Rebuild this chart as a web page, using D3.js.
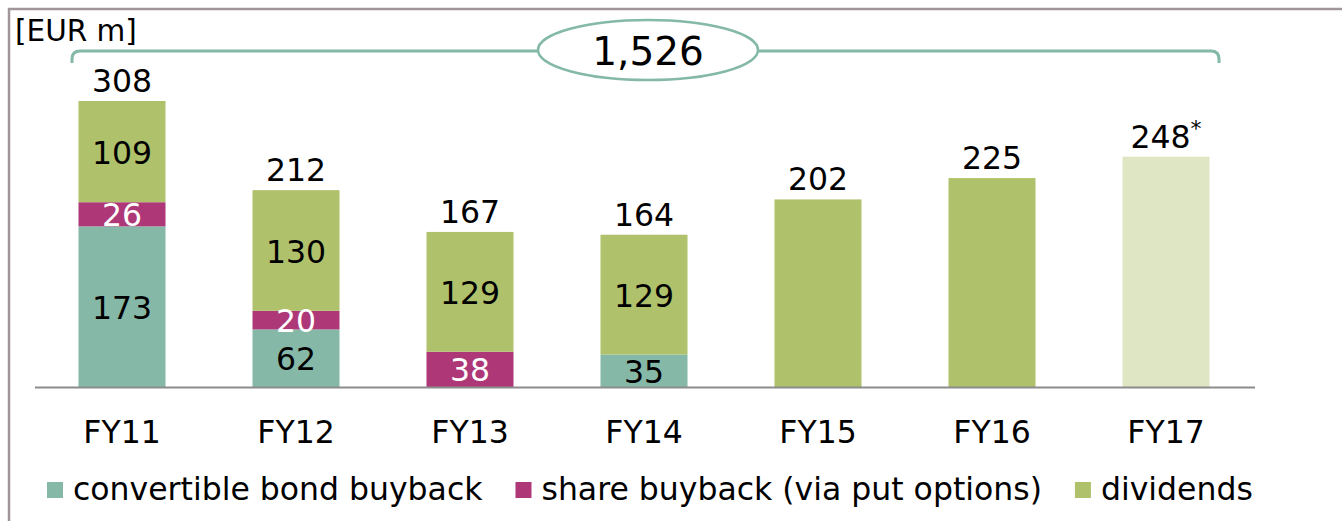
<!DOCTYPE html>
<html><head><meta charset="utf-8">
<script src="https://cdn.jsdelivr.net/npm/d3@7"></script>
<style>
html,body{margin:0;padding:0;background:#fff;}
svg{display:block;font-family:"DejaVu Sans",Verdana,sans-serif;}
</style></head>
<body><svg id="chart" width="1342" height="521"></svg>
<script>
const categories = ["FY11","FY12","FY13","FY14","FY15","FY16","FY17"];
const convertible = [173, 62, 0, 35, 0, 0, 0];
const shareBuyback = [26, 20, 38, 0, 0, 0, 0];
const dividends = [109, 130, 129, 129, 202, 225, 248];
const totals = ["308","212","167","164","202","225","248"];
const seriesNames = ["convertible bond buyback","share buyback (via put options)","dividends"];
const totalSum = "1,526";
const unitLabel = "[EUR m]";

const colors = ["#86b8a8","#ae3778","#afc16b"];
const lightGreen = "#dfe6c4";
const FS = 31.5;
const svg = d3.select("#chart");

// frame
svg.append("rect").attr("x",9).attr("y",9).attr("width",1400).attr("height",600)
  .attr("fill","none").attr("stroke","#a0969a").attr("stroke-width",2.5);

const x = d3.scaleBand().domain(categories).range([35,1253]).paddingInner(0.5).paddingOuter(0.25);
const y = d3.scaleLinear().domain([0,308]).range([387,101]);

const rows = categories.map((c,i)=>({cat:c, conv:convertible[i], share:shareBuyback[i], div:dividends[i]}));
const stack = d3.stack().keys(["conv","share","div"])(rows);

const g = svg.append("g");
stack.forEach((layer,li)=>{
  layer.forEach((d,i)=>{
    if (d[1]-d[0] <= 0) return;
    const cat = categories[i];
    const fill = (li===2 && cat==="FY17") ? lightGreen : colors[li];
    g.append("rect").attr("x",x(cat)).attr("width",x.bandwidth())
      .attr("y",y(d[1])).attr("height",y(d[0])-y(d[1])).attr("fill",fill);
  });
});
// segment labels (only for stacked bars)
stack.forEach((layer,li)=>{
  layer.forEach((d,i)=>{
    const v = d[1]-d[0];
    if (v<=0) return;
    const cat = categories[i];
    const onlyDiv = convertible[i]===0 && shareBuyback[i]===0;
    if (onlyDiv) return;
    g.append("text").attr("x",x(cat)+x.bandwidth()/2)
      .attr("y",(y(d[0])+y(d[1]))/2+12)
      .attr("text-anchor","middle").attr("font-size",FS)
      .attr("fill", li===1 ? "#fff" : "#000").text(v);
  });
});
// totals
categories.forEach((c,i)=>{
  const t = g.append("text").attr("x",x(c)+x.bandwidth()/2).attr("y",y(+totals[i])-9)
    .attr("text-anchor","middle").attr("font-size",FS).attr("fill","#000").text(totals[i]);
  if (c==="FY17") t.append("tspan").attr("font-size",22).attr("dy",-12).text("*");
});

// axis line
svg.append("line").attr("x1",35).attr("x2",1255).attr("y1",387.5).attr("y2",387.5)
  .attr("stroke","#8c8c8c").attr("stroke-width",2);
// category labels
const xAxis = d3.axisBottom(x).tickSize(0).tickPadding(0);
const ax = svg.append("g").attr("transform","translate(0,387)").call(xAxis);
ax.select(".domain").remove();
ax.selectAll("text").attr("font-size",FS).attr("fill","#000")
  .attr("font-family","DejaVu Sans").attr("dy",0).attr("y",55.5);

// unit
svg.append("text").attr("x",15).attr("y",41).attr("font-size",29.5).attr("fill","#000").text(unitLabel);

// bracket
const bx0 = 72, bx1 = 1219, by = 51, bdrop = 63, r = 8;
svg.append("path").attr("d",
  `M${bx0},${bdrop} L${bx0},${by+r} Q${bx0},${by} ${bx0+r},${by} L${bx1-r},${by} Q${bx1},${by} ${bx1},${by+r} L${bx1},${bdrop}`)
  .attr("fill","none").attr("stroke","#84b9a6").attr("stroke-width",3);
svg.append("ellipse").attr("cx",648).attr("cy",50).attr("rx",110).attr("ry",30)
  .attr("fill","#fff").attr("stroke","#84b9a6").attr("stroke-width",2.5);
svg.append("text").attr("x",648).attr("y",64.5).attr("text-anchor","middle")
  .attr("font-size",39).attr("fill","#000").text(totalSum);

// legend
let lx = 47;
seriesNames.forEach((n,i)=>{
  svg.append("rect").attr("x",lx).attr("y",482).attr("width",16).attr("height",16).attr("fill",colors[i]);
  const t = svg.append("text").attr("x",lx+26).attr("y",500).attr("font-size",FS).attr("fill","#000").text(n);
  lx = lx + 26 + t.node().getComputedTextLength() + 33;
});
</script></body></html>
